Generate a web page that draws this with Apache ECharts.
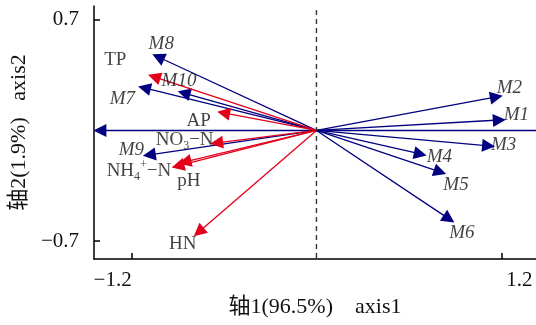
<!DOCTYPE html>
<html>
<head>
<meta charset="utf-8">
<script src="https://cdn.jsdelivr.net/npm/echarts@6/dist/echarts.min.js"></script>
<style>
html,body{margin:0;padding:0;background:#fff;}
#chart{width:536px;height:325px;}
</style>
</head>
<body>
<div id="chart"></div>
<script>
// ---- data ----
const sampleNames = ['M1','M2','M3','M4','M5','M6','M7','M8','M9','M10'];
const sampleX = [1.187, 1.168, 1.117, 0.674, 0.802, 0.860, -1.117, -1.027, -1.085, -0.860];
const sampleY = [0.066, 0.212, -0.098, -0.149, -0.263, -0.560, 0.269, 0.465, -0.155, 0.237];

const envNames = ['TP','AP','NO3-N','NH4+-N','pH','HN'];
const envX = [-1.053, -0.603, -0.648, -0.899, -0.854, -0.764];
const envY = [0.339, 0.111, -0.079, -0.225, -0.199, -0.643];

const refArrowX = [-1.406];
const refArrowY = [0];

const xTicks = [-1.2, 1.2];
const yTicks = [-0.7, 0.7];

// ---- styling ----
const BLUE = '#000080';
const RED = '#e3001b';
const SERIF = '"Liberation Serif","Times New Roman","Noto Sans CJK SC",serif';
const X_MIN = -1.444, X_MAX = 1.425, Y_MIN = -0.814, Y_MAX = 0.788;

const labelOffsets = {
  M1:[17,-5], M2:[13,-9], M3:[15,-1], M4:[19,3], M5:[16,13], M6:[13,14],
  M7:[-22,11], M8:[3,-13], M9:[-18,-5], M10:[-5,-12],
  'TP':[-39,-17], 'AP':[-25,8], 'NO3-N':[-32,-3], 'NH4+-N':[-39,5], 'pH':[4,19], 'HN':[-16,12]
};
const labelRich = {
  n:{fontFamily:SERIF,fontSize:19,color:'#111',lineHeight:24,verticalAlign:'middle'},
  i:{fontFamily:SERIF,fontSize:19,color:'#111',fontStyle:'italic',lineHeight:24},
  s:{fontFamily:SERIF,fontSize:12,color:'#111',lineHeight:12,verticalAlign:'bottom'},
  p:{fontFamily:SERIF,fontSize:12,color:'#111',lineHeight:12,verticalAlign:'top'}
};
function richName(name){
  if (name === 'NO3-N') return '{n|NO}{s|3}{n|\u2212N}';
  if (name === 'NH4+-N') return '{n|NH}{s|4}{p|+}{n|\u2212N}';
  if (/^M\d+$/.test(name)) return '{i|' + name + '}';
  return '{n|' + name + '}';
}
function fmt(v){ return (v < 0 ? '\u2212' : '') + Math.abs(v).toFixed(1); }

function arrows(xs, ys){
  return xs.map((x, i) => ({coords: [[0, 0], [x, ys[i]]]}));
}
function labelPoints(names, xs, ys){
  return names.map((n, i) => ({
    value: [xs[i], ys[i]],
    label: {formatter: richName(n), offset: labelOffsets[n] || [0,0]}
  }));
}

const chart = echarts.init(document.getElementById('chart'), null, {renderer:'canvas'});
chart.setOption({
  animation: false,
  backgroundColor: '#fff',
  grid: {left: 89, right: 0, top: 6, bottom: 66, containLabel: false},
  xAxis: {
    type: 'value', min: X_MIN, max: X_MAX,
    name: '轴1(96.5%)    axis1', nameLocation: 'middle', nameGap: 34,
    nameTextStyle: {fontFamily: SERIF, fontSize: 22, color: '#111'},
    axisLine: {onZero: false, lineStyle: {color: '#000', width: 1.5}},
    axisTick: {inside: true, length: 6, customValues: xTicks, lineStyle: {color: '#000', width: 1.5}},
    axisLabel: {
      customValues: xTicks, margin: 11,
      formatter: v => (v < 0 ? '{l|' + fmt(v) + '}' : '{r|' + fmt(v) + '}'),
      rich: {
        l: {fontFamily: SERIF, fontSize: 21, color: '#111', padding: [0, 38, 0, 0]},
        r: {fontFamily: SERIF, fontSize: 21, color: '#111', padding: [0, 0, 0, 36]}
      }
    },
    splitLine: {show: false}
  },
  yAxis: {
    type: 'value', min: Y_MIN, max: Y_MAX,
    name: '轴2(1.9%)   axis2', nameLocation: 'middle', nameGap: 54, nameRotate: 90,
    nameTextStyle: {fontFamily: SERIF, fontSize: 22, color: '#111'},
    axisLine: {onZero: false, lineStyle: {color: '#000', width: 1.5}},
    axisTick: {inside: true, length: 6, customValues: yTicks, lineStyle: {color: '#000', width: 1.5}},
    axisLabel: {
      customValues: yTicks, margin: 15,
      fontFamily: SERIF, fontSize: 21, color: '#111',
      formatter: v => fmt(v)
    },
    splitLine: {show: false}
  },
  series: [
    { // vertical dashed zero line
      type: 'line', data: [[0, 0.763], [0, Y_MIN]], symbol: 'none', silent: true,
      lineStyle: {color: '#333', width: 1.4, type: [5, 4]}
    },
    { // horizontal reference arrow along zero
      type: 'lines', coordinateSystem: 'cartesian2d', silent: true,
      data: [{coords: [[X_MAX, refArrowY[0]], [refArrowX[0], refArrowY[0]]]}],
      symbol: ['none', 'triangle'], symbolSize: 13,
      lineStyle: {color: BLUE, width: 1.3, opacity: 1, curveness: 0}
    },
    {
      type: 'lines', coordinateSystem: 'cartesian2d', silent: true,
      data: arrows(sampleX, sampleY),
      symbol: ['none', 'triangle'], symbolSize: 13,
      lineStyle: {color: BLUE, width: 1.3, opacity: 1, curveness: 0}
    },
    {
      type: 'lines', coordinateSystem: 'cartesian2d', silent: true,
      data: arrows(envX, envY),
      symbol: ['none', 'triangle'], symbolSize: 13,
      lineStyle: {color: RED, width: 1.3, opacity: 1, curveness: 0}
    },
    {
      type: 'scatter', symbolSize: 0, silent: true,
      data: labelPoints(sampleNames, sampleX, sampleY),
      label: {show: true, position: 'inside', align: 'center', verticalAlign: 'middle', rich: labelRich}
    },
    {
      type: 'scatter', symbolSize: 0, silent: true,
      data: labelPoints(envNames, envX, envY),
      label: {show: true, position: 'inside', align: 'center', verticalAlign: 'middle', rich: labelRich}
    }
  ]
});
</script>
</body>
</html>
